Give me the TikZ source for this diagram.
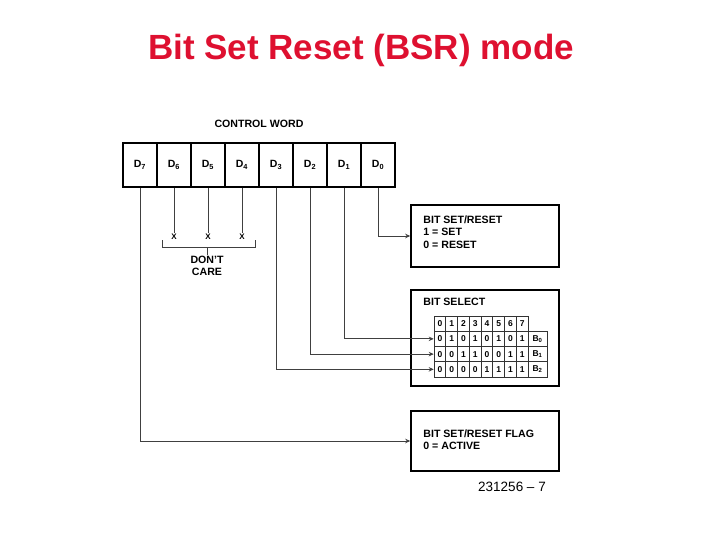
\documentclass[tikz,border=0pt]{standalone}
\usepackage{fontspec}
\setmainfont{Liberation Sans}
\usetikzlibrary{calc,arrows.meta}
\definecolor{titlered}{RGB}{222,16,48}
\tikzset{
  bitcell/.style={draw, line width=1.2pt, minimum width=34pt, minimum height=44pt, inner sep=0pt, font=\bfseries\fontsize{10.5}{11}\selectfont},
  wire/.style={draw=black!75, line width=0.8pt},
  arrowwire/.style={wire, -{Stealth[length=5pt,width=4.5pt]}},
  infobox/.style={draw, line width=1.6pt, minimum width=148pt, inner sep=0pt},
  boxtext/.style={anchor=north west, align=left, inner sep=0pt, font=\bfseries\fontsize{10.6}{12.5}\selectfont},
  tcell/.style={draw=black!80, line width=0.6pt, minimum width=11.75pt, minimum height=15.25pt, inner sep=0pt, font=\bfseries\fontsize{8.5}{9}\selectfont},
  smalltext/.style={font=\bfseries\fontsize{10.6}{12}\selectfont},
}

\begin{document}
\begin{tikzpicture}[x=1pt, y=-1pt]
    \useasboundingbox (0,0) rectangle (720,540);

    \node[font=\bfseries\fontsize{35}{40}\selectfont, text=titlered] (title) at (361,50) {Bit Set Reset (BSR) mode};

    % control word
    \node[smalltext] (cw) at (259,124) {CONTROL WORD};
    \foreach \i in {0,...,7}
        \node[bitcell] (d\i) at ({378-34*\i},165) {D\textsubscript{\i}};

    % don't care bits
    \foreach \i in {4,5,6} {
        \node[font=\bfseries\fontsize{8}{9}\selectfont, inner sep=1pt] (x\i) at ($(d\i.south)+(0,49)$) {X};
        \draw[wire] (d\i.south) -- (x\i.north);
    }
    \coordinate (brl) at (162,247);
    \coordinate (brr) at (255,247);
    \coordinate (brm) at (207,247);
    \draw[wire] ($(brl)+(0,-7)$) -- (brl) -- (brr) -- ($(brr)+(0,-7)$);
    \node[smalltext, align=center, anchor=north, inner sep=1pt] (dc) at (207,255) {DON'T\\CARE};
    \draw[wire] (brm) -- (dc.north);

    % boxes
    \node[infobox, minimum height=62pt] (bsr) at (485,236) {};
    \node[boxtext] at ($(bsr.north west)+(13,11)$) {BIT SET/RESET\\1 = SET\\0 = RESET};

    \node[infobox, minimum height=96pt] (sel) at (485,338) {};
    \node[boxtext] at ($(sel.north west)+(13,9)$) {BIT SELECT};

    \node[infobox, minimum height=60pt] (flag) at (485,441) {};
    \node[boxtext] at ($(flag.north west)+(13,19)$) {BIT SET/RESET FLAG\\0 = ACTIVE};

    % bit select table
    \foreach \c in {0,...,7}
        \node[tcell] (t-0-\c) at ({439.875+11.75*\c},323.6) {\c};
    \foreach \bits [count=\r] in {{0,1,0,1,0,1,0,1},{0,0,1,1,0,0,1,1},{0,0,0,0,1,1,1,1}} {
        \foreach \b [count=\c from 0] in \bits
            \node[tcell] (t-\r-\c) at ({439.875+11.75*\c},{323.6+15.25*\r}) {\b};
        \pgfmathtruncatemacro{\k}{\r-1}
        \node[tcell, minimum width=19pt] (b\k) at (537.5,{323.6+15.25*\r}) {B\textsubscript{\k}};
    }

    % connections
    \draw[arrowwire] (d0.south) |- (bsr.west);
    \draw[arrowwire] (d1.south) |- (t-1-0.west);
    \draw[arrowwire] (d2.south) |- (t-2-0.west);
    \draw[arrowwire] (d3.south) |- (t-3-0.west);
    \draw[arrowwire] (d7.south) |- (flag.west);

    \node[font=\fontsize{13.5}{14}\selectfont] (fig) at (512,487) {231256 -- 7};

\end{tikzpicture}
\end{document}
